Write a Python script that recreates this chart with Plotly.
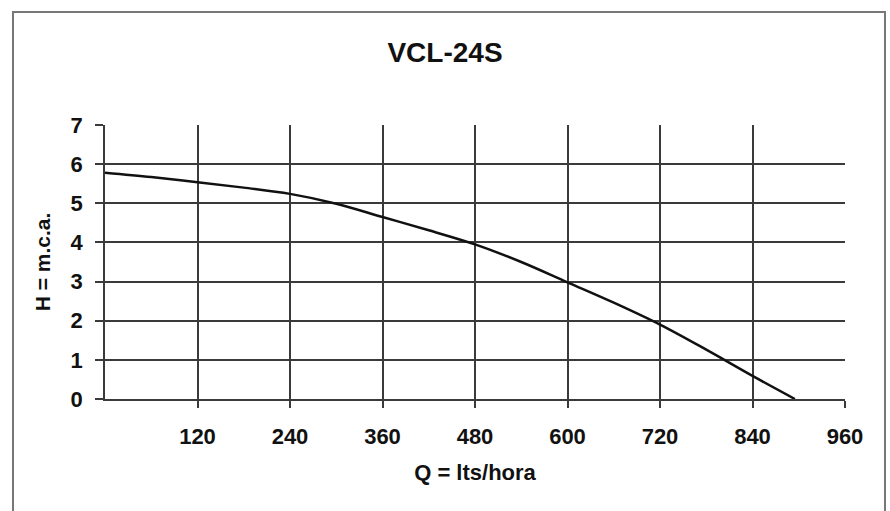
import plotly.graph_objects as go

# Pump curve VCL-24S
q_flow = [0, 60, 120, 180, 240, 300, 360, 420, 480, 540, 600, 660, 720, 780, 840, 895]
h_head = [5.78, 5.67, 5.54, 5.40, 5.24, 4.99, 4.65, 4.31, 3.95, 3.5, 2.98, 2.46, 1.9, 1.26, 0.59, 0.0]

x_ticks = [120, 240, 360, 480, 600, 720, 840, 960]
y_ticks = [0, 1, 2, 3, 4, 5, 6, 7]

FONT = "Liberation Sans, Arial, sans-serif"
GRID = "#3a3a3a"

fig = go.Figure()
fig.add_trace(go.Scatter(
    x=q_flow, y=h_head, mode="lines",
    line=dict(color="#111111", width=2.5, shape="spline", smoothing=1.0),
    showlegend=False, hoverinfo="x+y",
))

fig.update_layout(
    width=890, height=511,
    margin=dict(l=105, r=45, t=125, b=112),
    paper_bgcolor="white", plot_bgcolor="white",
    title=dict(text="<b>VCL-24S</b>", x=0.5, xref="container", xanchor="center",
               y=1 - 52 / 511, yref="container", yanchor="middle",
               font=dict(family=FONT, size=28, color="#111")),
    font=dict(family=FONT, color="#111"),
    showlegend=False,
)

fig.update_xaxes(
    range=[0, 960], tickvals=x_ticks, ticktext=[f"<b>{v}</b>" for v in x_ticks],
    tickfont=dict(size=22, family=FONT, color="#111"),
    showgrid=True, gridcolor=GRID, gridwidth=1.5,
    showline=True, linecolor=GRID, linewidth=1.5, mirror=False,
    ticks="outside", ticklen=7, tickcolor=GRID, tickwidth=1.5,
    ticklabelstandoff=10,
    zeroline=False,
    title=dict(text="<b>Q = lts/hora</b>", font=dict(size=22, family=FONT, color="#111"), standoff=16),
)
fig.update_yaxes(
    range=[0, 7], tickvals=y_ticks, ticktext=[f"<b>{v}</b>" for v in y_ticks],
    tickfont=dict(size=22, family=FONT, color="#111"),
    showgrid=True, gridcolor=GRID, gridwidth=1.5,
    showline=True, linecolor=GRID, linewidth=1.5,
    ticks="outside", ticklen=8, tickcolor=GRID, tickwidth=1.5,
    ticklabelstandoff=8,
    zeroline=False,
    title=dict(text="<b>H = m.c.a.</b>", font=dict(size=21, family=FONT, color="#111"), standoff=14),
)

# outer frame of the figure
fig.add_shape(type="rect", xref="paper", yref="paper",
              x0=(13 - 105) / 740, x1=(885 - 105) / 740,
              y0=(399 - 520) / 274, y1=(399 - 12) / 274,
              line=dict(color="#777777", width=2), fillcolor="rgba(0,0,0,0)", layer="below")

fig.write_html("out.html", config={"displayModeBar": False},
               post_script="document.body.style.margin='0px';")
